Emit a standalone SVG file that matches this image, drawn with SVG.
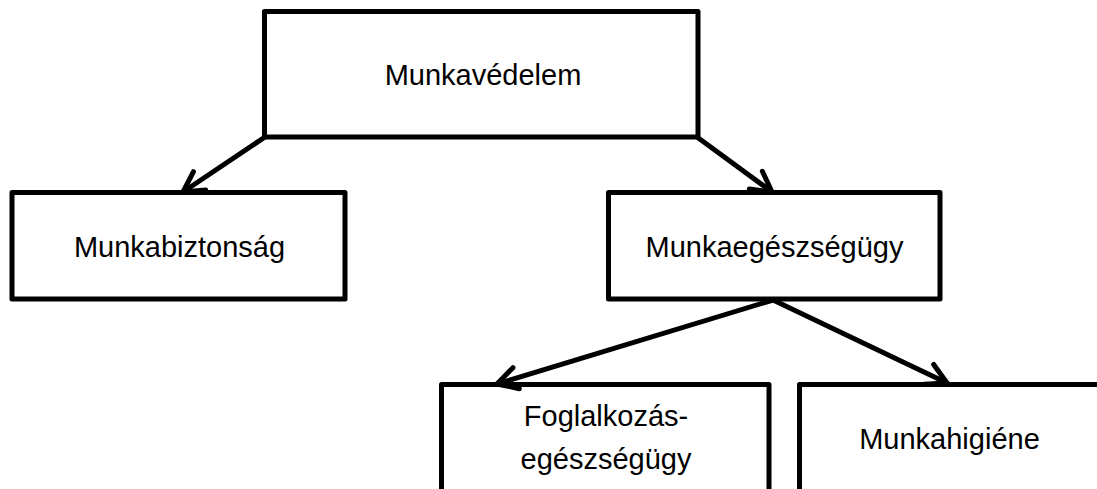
<svg xmlns="http://www.w3.org/2000/svg" width="1097" height="489" viewBox="0 0 1097 489">
  <style>
    .box { fill: #ffffff; stroke: #000000; stroke-width: 5; stroke-linejoin: round; }
    .lbl { font-family: "Liberation Sans", Arial, sans-serif; font-size: 29px; fill: #000000; text-anchor: middle; }
    .conn { stroke: #000000; stroke-width: 5; fill: none; stroke-linecap: round; }
  </style>
  <defs>
    <marker id="arrow" markerUnits="userSpaceOnUse" markerWidth="40" markerHeight="40" viewBox="-30 -20 40 40" refX="0" refY="0" orient="auto">
      <path d="M -20 -11 L 0 0 L -20 11" fill="none" stroke="#000000" stroke-width="5" stroke-linecap="round" stroke-linejoin="round"/>
    </marker>
  </defs>
  <rect width="1097" height="489" fill="#ffffff"/>
  <g id="node-munkavedelem">
    <rect class="box" x="264.5" y="11.5" width="433.5" height="125.5"/>
    <text class="lbl" x="483" y="85">Munkavédelem</text>
  </g>
  <g id="node-munkabiztonsag">
    <rect class="box" x="12" y="192.5" width="333" height="106.5"/>
    <text class="lbl" x="179.5" y="257">Munkabiztonság</text>
  </g>
  <g id="node-munkaegeszsegugy">
    <rect class="box" x="608.5" y="192.5" width="331.5" height="106.5"/>
    <text class="lbl" x="774.5" y="257">Munkaegészségügy</text>
  </g>
  <g id="node-foglalkozas">
    <rect class="box" x="441.5" y="384.5" width="327.5" height="140"/>
    <text class="lbl" x="606" y="426">Foglalkozás-</text>
    <text class="lbl" x="606" y="469">egészségügy</text>
  </g>
  <g id="node-munkahigiene">
    <rect class="box" x="799.5" y="384.5" width="340" height="140"/>
    <text class="lbl" x="949.5" y="449">Munkahigiéne</text>
  </g>
  <g id="connectors">
    <line class="conn" x1="265" y1="137" x2="183" y2="192" marker-end="url(#arrow)"/>
    <line class="conn" x1="697" y1="137" x2="772" y2="192" marker-end="url(#arrow)"/>
    <line class="conn" x1="773" y1="300" x2="497" y2="384" marker-end="url(#arrow)"/>
    <line class="conn" x1="773" y1="300" x2="947" y2="383" marker-end="url(#arrow)"/>
  </g>
</svg>
